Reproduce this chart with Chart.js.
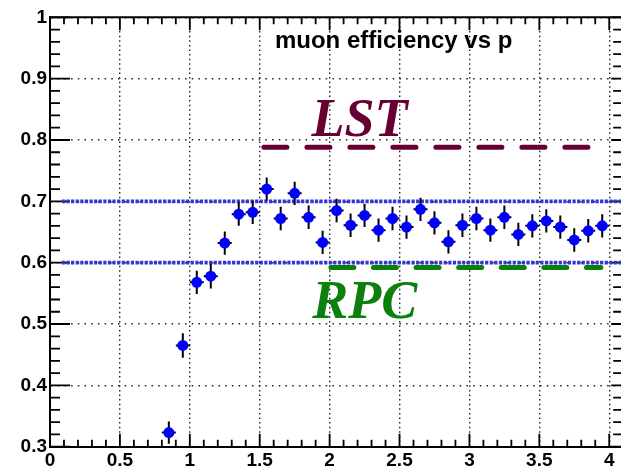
<!DOCTYPE html>
<html>
<head>
<meta charset="utf-8">
<title>muon efficiency vs p</title>
<script src="https://cdn.jsdelivr.net/npm/chart.js@4.4.1/dist/chart.umd.min.js"></script>
<style>
  html, body { margin: 0; padding: 0; background: #fff; overflow: hidden; }
  #wrap { width: 640px; height: 467px; }
</style>
</head>
<body>
<div id="wrap"><canvas id="eff" width="640" height="467"></canvas></div>
<script>
// Bin centres in momentum p (GeV/c)
const binCenters = [0.85, 0.95, 1.05, 1.15, 1.25, 1.35, 1.45, 1.55, 1.65, 1.75, 1.85, 1.95,
                    2.05, 2.15, 2.25, 2.35, 2.45, 2.55, 2.65, 2.75, 2.85, 2.95,
                    3.05, 3.15, 3.25, 3.35, 3.45, 3.55, 3.65, 3.75, 3.85, 3.95];
// Muon efficiency per bin
const efficiency = [0.323, 0.465, 0.568, 0.578, 0.632, 0.679, 0.682, 0.720, 0.672, 0.713, 0.674, 0.633,
                    0.685, 0.661, 0.677, 0.653, 0.672, 0.658, 0.687, 0.665, 0.634, 0.661,
                    0.672, 0.653, 0.674, 0.646, 0.660, 0.668, 0.658, 0.637, 0.652, 0.660];
// Statistical error on efficiency
const effError = [0.018, 0.020, 0.019, 0.020, 0.019, 0.019, 0.019, 0.019, 0.019, 0.019, 0.019, 0.019,
                  0.019, 0.019, 0.019, 0.019, 0.019, 0.019, 0.019, 0.019, 0.019, 0.019,
                  0.019, 0.019, 0.019, 0.019, 0.019, 0.019, 0.019, 0.019, 0.019, 0.019];
// Half bin width (horizontal error)
const binHalfWidth = 0.05;

// Reference levels
const bandLevels = [0.7, 0.6];
const bandRange = [0.085, 4.1];
const lstLevel = 0.788;
const lstRange = [1.53, 3.87];
const rpcLevel = 0.592;
const rpcRange = [2.009, 3.94];

// Axis tick labels
const xTicks = [0, 0.5, 1, 1.5, 2, 2.5, 3, 3.5, 4];
const yTicks = [0.3, 0.4, 0.5, 0.6, 0.7, 0.8, 0.9, 1];

const titleText = 'muon efficiency vs p';
const lstText = 'LST';
const rpcText = 'RPC';

const points = binCenters.map((x, i) => ({ x: x, y: efficiency[i] }));
const hline = (level, range) => [{ x: range[0], y: level }, { x: range[1], y: level }];

const labelFont = { family: 'Liberation Sans', weight: 'bold', size: 19 };

// ROOT-style frame: inward ticks on all four sides, error bars and text
const rootDecor = {
  id: 'rootDecor',
  beforeDatasetsDraw(chart) {
    const { ctx, chartArea: a, scales: { x, y } } = chart;
    ctx.save();
    ctx.strokeStyle = '#000';
    ctx.lineWidth = 1.8;
    ctx.beginPath();
    // x ticks (every 0.1, major every 0.5)
    for (let i = 0; i <= 41; i++) {
      const px = x.getPixelForValue(i / 10);
      const len = (i % 5 === 0) ? 13 : 7;
      ctx.moveTo(px, a.bottom); ctx.lineTo(px, a.bottom - len);
      ctx.moveTo(px, a.top); ctx.lineTo(px, a.top + len);
    }
    // y ticks (every 0.02, major every 0.1)
    for (let i = 15; i <= 50; i++) {
      const py = y.getPixelForValue(i / 50);
      const major = (i % 5 === 0);
      ctx.moveTo(a.left, py); ctx.lineTo(a.left + (major ? 20 : 10), py);
      ctx.moveTo(a.right, py); ctx.lineTo(a.right - (major ? 12 : 10), py);
    }
    ctx.stroke();
    // top and right frame
    ctx.lineWidth = 2;
    ctx.beginPath();
    ctx.moveTo(a.left - 1, a.top); ctx.lineTo(a.right, a.top); ctx.lineTo(a.right, a.bottom);
    ctx.stroke();
    ctx.restore();
  },
  beforeDatasetDraw(chart, args) {
    if (args.index !== 0) return;
    const { ctx, scales: { x, y } } = chart;
    ctx.save();
    ctx.strokeStyle = '#000';
    ctx.lineWidth = 2;
    ctx.beginPath();
    binCenters.forEach((bx, i) => {
      const px = x.getPixelForValue(bx);
      const py = y.getPixelForValue(efficiency[i]);
      ctx.moveTo(px, y.getPixelForValue(efficiency[i] - effError[i]));
      ctx.lineTo(px, y.getPixelForValue(efficiency[i] + effError[i]));
      ctx.moveTo(x.getPixelForValue(bx - binHalfWidth), py);
      ctx.lineTo(x.getPixelForValue(bx + binHalfWidth), py);
    });
    ctx.stroke();
    ctx.restore();
  },
  afterDraw(chart) {
    const { ctx, scales: { x, y } } = chart;
    ctx.save();
    ctx.textAlign = 'left';
    ctx.textBaseline = 'alphabetic';
    ctx.fillStyle = '#000';
    ctx.font = 'bold 24px "Liberation Sans"';
    ctx.fillText(titleText, x.getPixelForValue(1.609), y.getPixelForValue(0.95));
    ctx.fillStyle = '#660033';
    ctx.font = 'italic bold 54px "Liberation Serif"';
    ctx.fillText(lstText, x.getPixelForValue(1.87), y.getPixelForValue(0.806));
    ctx.fillStyle = '#0c800c';
    ctx.font = 'italic bold 54px "Liberation Serif"';
    ctx.fillText(rpcText, x.getPixelForValue(1.875), y.getPixelForValue(0.5106));
    ctx.restore();
  }
};

const lineBase = { type: 'line', showLine: true, fill: false, pointRadius: 0, pointHoverRadius: 0 };

new Chart(document.getElementById('eff'), {
  type: 'scatter',
  data: {
    datasets: [
      {
        label: 'efficiency',
        data: points,
        pointRadius: 5.5,
        pointHoverRadius: 5.5,
        pointBackgroundColor: '#0000ff',
        pointBorderWidth: 0,
        showLine: false,
        order: 0
      },
      Object.assign({}, lineBase, {
        label: 'band high', data: hline(bandLevels[0], bandRange),
        borderColor: '#3535d0', borderWidth: 3.6, borderDash: [3.2, 1.4], order: 2
      }),
      Object.assign({}, lineBase, {
        label: 'band low', data: hline(bandLevels[1], bandRange),
        borderColor: '#3535d0', borderWidth: 3.6, borderDash: [3.2, 1.4], order: 2
      }),
      Object.assign({}, lineBase, {
        label: 'LST', data: hline(lstLevel, lstRange),
        borderColor: '#660033', borderWidth: 5, borderDash: [23, 20], borderCapStyle: 'round', order: 1
      }),
      Object.assign({}, lineBase, {
        label: 'RPC', data: hline(rpcLevel, rpcRange),
        borderColor: '#0c800c', borderWidth: 5, borderDash: [23, 19.6], borderCapStyle: 'round', order: 1
      })
    ]
  },
  options: {
    responsive: false,
    animation: false,
    devicePixelRatio: 1,
    events: [],
    layout: { padding: { left: 0, top: 17.3, right: 16.8, bottom: 0 } },
    plugins: { legend: { display: false }, tooltip: { enabled: false }, title: { display: false } },
    scales: {
      x: {
        type: 'linear', min: 0, max: 4.1,
        afterBuildTicks: s => { s.ticks = xTicks.map(v => ({ value: v })); },
        afterFit: s => { s.height = 20.3; },
        ticks: { font: labelFont, color: '#000', padding: 3, maxRotation: 0, autoSkip: false,
                 callback: v => String(v) },
        grid: { color: '#222', lineWidth: 1.4, drawTicks: false },
        border: { color: '#000', width: 2, dash: [1.5, 3.1] }
      },
      y: {
        type: 'linear', min: 0.3, max: 1,
        afterBuildTicks: s => { s.ticks = yTicks.map(v => ({ value: v })); },
        afterFit: s => { s.width = 50; },
        ticks: { font: labelFont, color: '#000', padding: 3, autoSkip: false,
                 callback: v => String(v) },
        grid: { color: '#222', lineWidth: 1.4, drawTicks: false },
        border: { color: '#000', width: 2, dash: [1.5, 5.2] }
      }
    }
  },
  plugins: [rootDecor]
});
</script>
</body>
</html>
